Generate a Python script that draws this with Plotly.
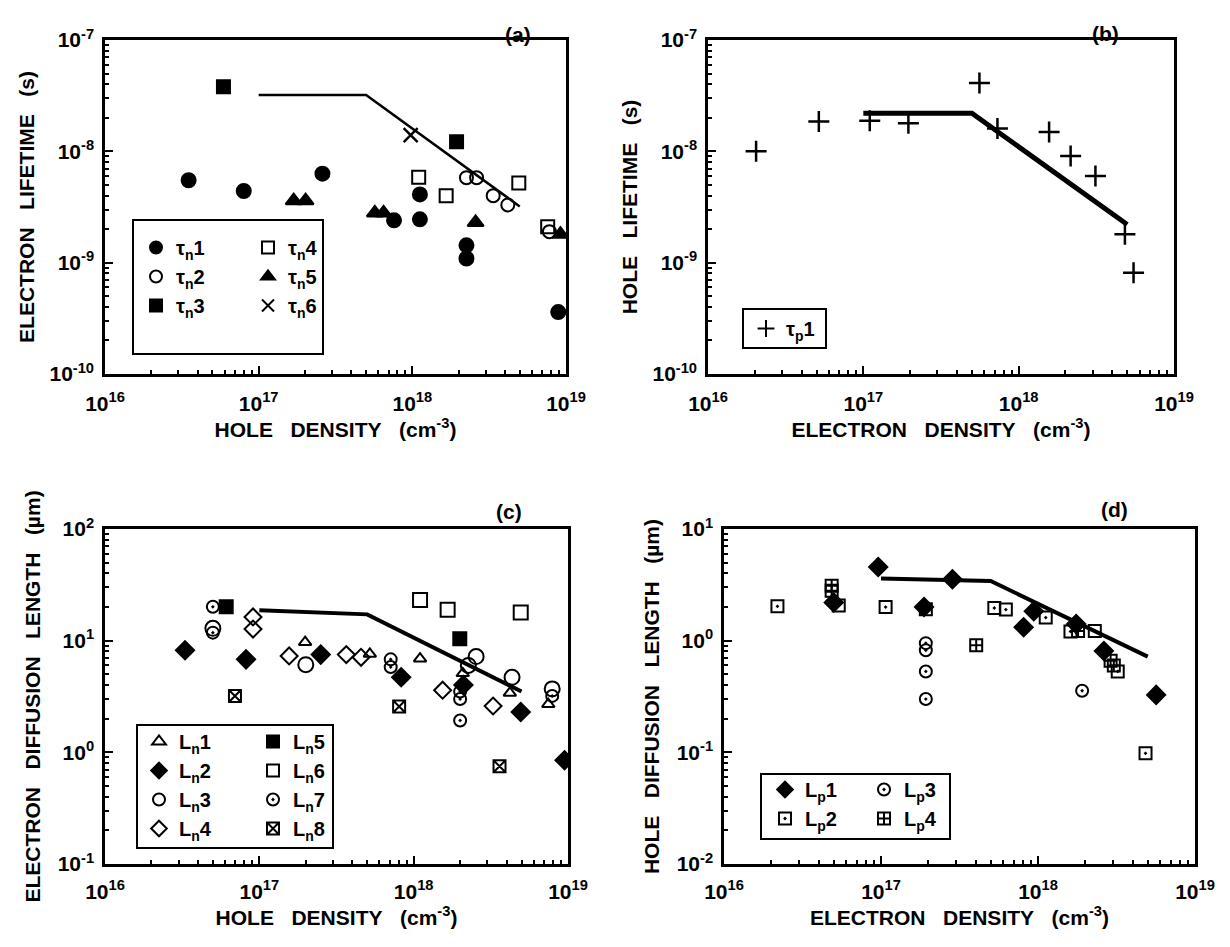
import plotly.graph_objects as go

# ---------------- data ----------------
# (a) electron lifetime vs hole density
tn1_x = [3.5e16, 8.0e16, 2.6e17, 7.6e17, 1.12e18, 1.12e18, 2.25e18, 2.25e18, 8.9e18]
tn1_y = [5.5e-9, 4.4e-9, 6.3e-9, 2.4e-9, 4.1e-9, 2.45e-9, 1.43e-9, 1.09e-9, 3.6e-10]
tn2_x = [2.25e18, 2.62e18, 3.36e18, 4.18e18, 7.8e18]
tn2_y = [5.8e-9, 5.8e-9, 4.0e-9, 3.3e-9, 1.9e-9]
tn3_x = [5.9e16, 1.94e18]
tn3_y = [3.8e-8, 1.22e-8]
tn4_x = [1.1e18, 1.66e18, 4.93e18, 7.6e18]
tn4_y = [5.85e-9, 4.0e-9, 5.2e-9, 2.1e-9]
tn5_x = [1.69e17, 2.02e17, 5.7e17, 6.5e17, 2.58e18, 9.2e18]
tn5_y = [3.6e-9, 3.6e-9, 2.8e-9, 2.8e-9, 2.3e-9, 1.8e-9]
tn6_x = [9.75e17]
tn6_y = [1.4e-8]
fit_a_x = [1e17, 5e17, 5e18]
fit_a_y = [3.2e-8, 3.2e-8, 3.2e-9]

# (b) hole lifetime vs electron density
tp1_x = [2.04e16, 5.17e16, 1.1e17, 1.95e17, 5.59e17, 7.3e17, 1.57e18, 2.16e18, 3.12e18, 4.83e18, 5.49e18]
tp1_y = [1.0e-8, 1.85e-8, 1.88e-8, 1.79e-8, 4.1e-8, 1.6e-8, 1.49e-8, 9.1e-9, 6.0e-9, 1.8e-9, 8.1e-10]
fit_b_x = [1e17, 5e17, 5e18]
fit_b_y = [2.2e-8, 2.2e-8, 2.2e-9]

# (c) electron diffusion length vs hole density
ln1_x = [1.98e17, 5.2e17, 1.1e18, 2.08e18, 4.2e18, 7.45e18]
ln1_y = [9.7, 7.6, 6.9, 5.1, 3.4, 2.7]
ln2_x = [3.3e16, 8.2e16, 2.5e17, 8.3e17, 2.1e18, 4.94e18, 9.5e18]
ln2_y = [8.2, 6.8, 7.5, 4.7, 4.0, 2.3, 0.85]
ln3_x = [5.0e16, 2.0e17, 2.26e18, 2.54e18, 4.34e18, 7.9e18]
ln3_y = [12.9, 6.1, 6.0, 7.2, 4.7, 3.7]
ln4_x = [9.1e16, 9.1e16, 1.56e17, 3.66e17, 4.56e17, 1.54e18, 3.27e18]
ln4_y = [16.3, 12.7, 7.3, 7.5, 7.1, 3.6, 2.6]
ln5_x = [6.1e16, 1.99e18]
ln5_y = [20.1, 10.4]
ln6_x = [1.1e18, 1.66e18, 4.94e18]
ln6_y = [23.1, 18.9, 17.9]
ln7_x = [5.0e16, 5.0e16, 7.1e17, 7.1e17, 2.0e18, 2.0e18, 2.0e18, 7.9e18]
ln7_y = [20.1, 11.8, 6.8, 5.8, 3.5, 3.0, 1.93, 3.2]
ln8_x = [6.95e16, 8.05e17, 3.6e18]
ln8_y = [3.2, 2.57, 0.75]
fit_c_x = [1e17, 5e17, 5e18]
fit_c_y = [18.7, 17.2, 3.5]

# (d) hole diffusion length vs electron density
lp1_x = [5.0e16, 9.6e16, 1.88e17, 2.85e17, 8.1e17, 9.4e17, 1.75e18, 2.63e18, 5.66e18]
lp1_y = [2.2, 4.56, 2.0, 3.54, 1.32, 1.83, 1.41, 0.81, 0.327]
lp2_x = [2.19e16, 5.38e16, 1.07e17, 1.93e17, 5.27e17, 6.24e17, 1.12e18, 1.61e18, 2.3e18, 3.22e18, 4.84e18]
lp2_y = [2.03, 2.07, 2.0, 1.91, 1.96, 1.9, 1.61, 1.21, 1.22, 0.53, 0.098]
lp3_x = [1.93e17, 1.93e17, 1.93e17, 1.93e17, 1.91e18]
lp3_y = [0.95, 0.82, 0.53, 0.30, 0.356]
lp4_x = [4.85e16, 4.85e16, 4.04e17, 1.8e18, 2.9e18, 3.04e18]
lp4_y = [3.1, 2.8, 0.91, 1.22, 0.66, 0.6]
fit_d_x = [1e17, 5e17, 5e18]
fit_d_y = [3.6, 3.42, 0.72]

x_tickvals = [1e16, 1e17, 1e18, 1e19]
x_ticktext = ["10<sup>16</sup>", "10<sup>17</sup>", "10<sup>18</sup>", "10<sup>19</sup>"]
y_life_vals = [1e-10, 1e-9, 1e-8, 1e-7]
y_life_text = ["10<sup>-10</sup>", "10<sup>-9</sup>", "10<sup>-8</sup>", "10<sup>-7</sup>"]
y_lnc_vals = [0.1, 1, 10, 100]
y_lnc_text = ["10<sup>-1</sup>", "10<sup>0</sup>", "10<sup>1</sup>", "10<sup>2</sup>"]
y_lpd_vals = [0.01, 0.1, 1, 10]
y_lpd_text = ["10<sup>-2</sup>", "10<sup>-1</sup>", "10<sup>0</sup>", "10<sup>1</sup>"]

# ---------------- figure ----------------
W, H = 1230, 947
FONT = "Liberation Sans"
BLACK = "black"

fig = go.Figure()


def px_x(p):
    return p / W


def px_y(p):
    return 1 - p / H


def add_pts(x, y, name, symbol, xa, ya, legend, size=11, lw=2):
    fig.add_trace(go.Scatter(
        x=x, y=y, mode="markers", name=name, xaxis=xa, yaxis=ya, legend=legend,
        marker=dict(symbol=symbol, size=size, color=BLACK,
                    line=dict(color=BLACK, width=lw)),
    ))


def add_fit(x, y, xa, ya, width=3):
    fig.add_trace(go.Scatter(
        x=x, y=y, mode="lines", xaxis=xa, yaxis=ya, showlegend=False,
        line=dict(color=BLACK, width=width),
    ))


# panel (a)
add_pts(tn1_x, tn1_y, "τ<sub>n</sub>1", "circle", "x", "y", "legend", size=14)
add_pts(tn2_x, tn2_y, "τ<sub>n</sub>2", "circle-open", "x", "y", "legend", size=13)
add_pts(tn3_x, tn3_y, "τ<sub>n</sub>3", "square", "x", "y", "legend", size=13)
add_pts(tn4_x, tn4_y, "τ<sub>n</sub>4", "square-open", "x", "y", "legend2", size=13)
add_pts(tn5_x, tn5_y, "τ<sub>n</sub>5", "triangle-up", "x", "y", "legend2", size=14)
add_pts(tn6_x, tn6_y, "τ<sub>n</sub>6", "x-thin-open", "x", "y", "legend2", size=14, lw=2.5)
add_fit(fit_a_x, fit_a_y, "x", "y", 2.5)

# panel (b)
add_pts(tp1_x, tp1_y, "τ<sub>p</sub>1", "cross-thin-open", "x2", "y2", "legend3", size=15, lw=2.5)
add_fit(fit_b_x, fit_b_y, "x2", "y2", 5)

# panel (c)
add_pts(ln1_x, ln1_y, "L<sub>n</sub>1", "triangle-up-open", "x3", "y3", "legend4", size=11)
add_pts(ln2_x, ln2_y, "L<sub>n</sub>2", "diamond", "x3", "y3", "legend4", size=14)
add_pts(ln3_x, ln3_y, "L<sub>n</sub>3", "circle-open", "x3", "y3", "legend4", size=15)
add_pts(ln4_x, ln4_y, "L<sub>n</sub>4", "diamond-open", "x3", "y3", "legend4", size=13)
add_pts(ln5_x, ln5_y, "L<sub>n</sub>5", "square", "x3", "y3", "legend5", size=13)
add_pts(ln6_x, ln6_y, "L<sub>n</sub>6", "square-open", "x3", "y3", "legend5", size=14)
add_pts(ln7_x, ln7_y, "L<sub>n</sub>7", "circle-open-dot", "x3", "y3", "legend5", size=12)
add_pts(ln8_x, ln8_y, "L<sub>n</sub>8", "square-x-open", "x3", "y3", "legend5", size=12)
add_fit(fit_c_x, fit_c_y, "x3", "y3", 4)

# panel (d)
add_pts(lp1_x, lp1_y, "L<sub>p</sub>1", "diamond", "x4", "y4", "legend6", size=14)
add_pts(lp2_x, lp2_y, "L<sub>p</sub>2", "square-open-dot", "x4", "y4", "legend6", size=12)
add_pts(lp3_x, lp3_y, "L<sub>p</sub>3", "circle-open-dot", "x4", "y4", "legend7", size=12)
add_pts(lp4_x, lp4_y, "L<sub>p</sub>4", "square-cross-open", "x4", "y4", "legend7", size=12)
add_fit(fit_d_x, fit_d_y, "x4", "y4", 4)

# ---------------- axes ----------------
tickfont = dict(family=FONT, size=21, color=BLACK, weight="bold")
titlefont = dict(family=FONT, size=21, color=BLACK, weight="bold")


def axis_common(rng, vals, text, standoff):
    return dict(
        type="log", range=rng, tickmode="array", tickvals=vals, ticktext=text,
        showline=True, linecolor=BLACK, linewidth=2.5, mirror=True,
        ticks="inside", ticklen=8, tickwidth=2, tickcolor=BLACK,
        minor=dict(ticks="inside", ticklen=4, tickwidth=1.5, tickcolor=BLACK, dtick="D1", showgrid=False),
        showgrid=False, zeroline=False, automargin=False, tickfont=tickfont,
        ticklabelstandoff=standoff,
    )


# panel boxes in pixels: (left, right, top, bottom)
boxes = {
    "a": (105, 566, 40, 374),
    "b": (708, 1174, 40, 374),
    "c": (105, 568, 529, 864),
    "d": (724, 1195, 529, 864),
}


def dom(b):
    l, r, t, btm = b
    return [px_x(l), px_x(r)], [px_y(btm), px_y(t)]


xa_dom, ya_dom = dom(boxes["a"])
xb_dom, yb_dom = dom(boxes["b"])
xc_dom, yc_dom = dom(boxes["c"])
xd_dom, yd_dom = dom(boxes["d"])

SP = "\u00a0\u00a0\u00a0"
x_hole = f"HOLE{SP}DENSITY{SP}(cm<sup>-3</sup>)"
x_elec = f"ELECTRON{SP}DENSITY{SP}(cm<sup>-3</sup>)"
y_a = f"ELECTRON{SP}LIFETIME{SP}(s)"
y_b = f"HOLE{SP}LIFETIME{SP}(s)"
y_c = f"ELECTRON{SP}DIFFUSION{SP}LENGTH{SP}(µm)"
y_d = f"HOLE{SP}DIFFUSION{SP}LENGTH{SP}(µm)"

fig.update_layout(
    xaxis=dict(domain=xa_dom, anchor="y", **axis_common([16, 19], x_tickvals, x_ticktext, 9),
               title=dict(text=x_hole, font=titlefont, standoff=6)),
    yaxis=dict(domain=ya_dom, anchor="x", **axis_common([-10, -7], y_life_vals, y_life_text, 4),
               title=dict(text=y_a, font=titlefont, standoff=10)),
    xaxis2=dict(domain=xb_dom, anchor="y2", **axis_common([16, 19], x_tickvals, x_ticktext, 9),
                title=dict(text=x_elec, font=titlefont, standoff=6)),
    yaxis2=dict(domain=yb_dom, anchor="x2", **axis_common([-10, -7], y_life_vals, y_life_text, 4),
                title=dict(text=y_b, font=titlefont, standoff=10)),
    xaxis3=dict(domain=xc_dom, anchor="y3", **axis_common([16, 19], x_tickvals, x_ticktext, 7),
                title=dict(text=x_hole, font=titlefont, standoff=5)),
    yaxis3=dict(domain=yc_dom, anchor="x3", **axis_common([-1, 2], y_lnc_vals, y_lnc_text, 4),
                title=dict(text=y_c, font=titlefont, standoff=12)),
    xaxis4=dict(domain=xd_dom, anchor="y4", **axis_common([16, 19], x_tickvals, x_ticktext, 7),
                title=dict(text=x_elec, font=titlefont, standoff=5)),
    yaxis4=dict(domain=yd_dom, anchor="x4", **axis_common([-2, 1], y_lpd_vals, y_lpd_text, 4),
                title=dict(text=y_d, font=titlefont, standoff=12)),
)

# ---------------- legends ----------------
legfont = dict(family=FONT, size=20, color=BLACK, weight="bold")


def leg(xp, yp):
    return dict(x=px_x(xp), y=px_y(yp), xanchor="left", yanchor="top",
                bgcolor="rgba(0,0,0,0)", borderwidth=0, font=legfont,
                itemsizing="constant", tracegroupgap=0)


fig.update_layout(
    legend=leg(136, 228),
    legend2=leg(248, 228),
    legend3=leg(746, 309),
    legend4=leg(139, 722),
    legend5=leg(253, 722),
    legend6=leg(765, 770),
    legend7=leg(864, 770),
)

# legend frames
legend_frames = [
    (133, 323, 220, 354),
    (743, 826, 309, 348),
    (137, 333, 725, 848),
    (761, 950, 774, 839),
]
shapes = []
for l, r, t, b in legend_frames:
    shapes.append(dict(type="rect", xref="paper", yref="paper",
                       x0=px_x(l), x1=px_x(r), y0=px_y(b), y1=px_y(t),
                       line=dict(color=BLACK, width=2), fillcolor="rgba(0,0,0,0)"))

# panel letters
letters = [("(a)", 518, 21), ("(b)", 1121, 20), ("(c)", 509, 511), ("(d)", 1130, 509)]
annotations = [
    dict(text=t, x=px_x(xp), y=px_y(yp), xref="paper", yref="paper",
         showarrow=False, font=dict(family=FONT, size=21, color=BLACK, weight="bold"))
    for t, xp, yp in letters
]

fig.update_layout(
    width=W, height=H, margin=dict(l=0, r=0, t=0, b=0),
    paper_bgcolor="white", plot_bgcolor="white",
    shapes=shapes, annotations=annotations,
)

fig.write_html("out.html")
